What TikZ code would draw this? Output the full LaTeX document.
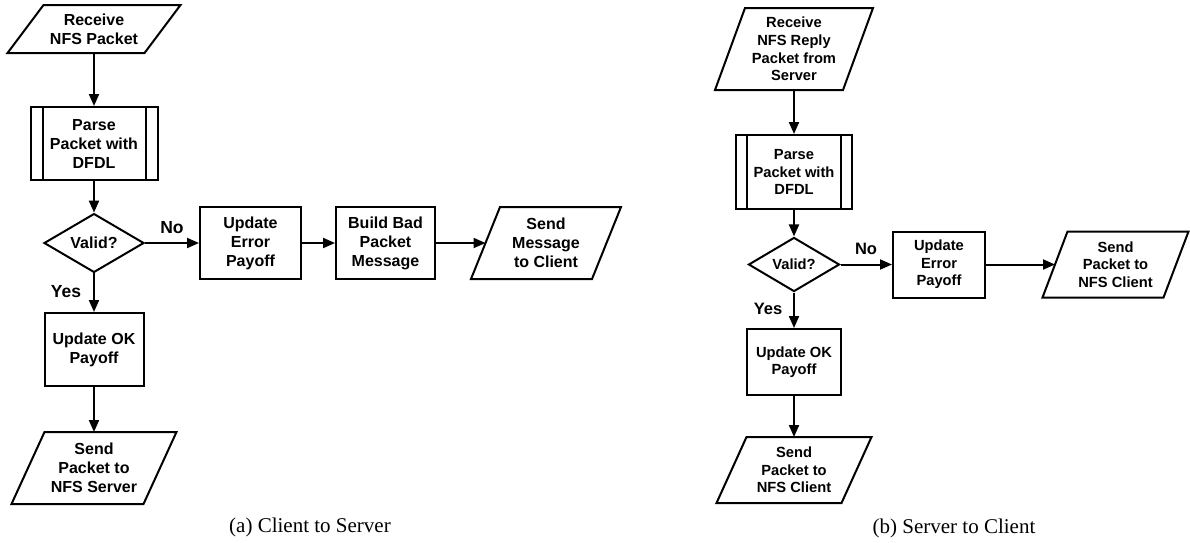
\documentclass[tikz,border=0pt]{standalone}
\usepackage{fontspec}
\newfontfamily\boxfont{Liberation Sans}
\newfontfamily\capfont{Liberation Serif}
\usetikzlibrary{shapes.geometric,arrows.meta,calc}
\newcommand\drawio[2]{\draw[line width=2pt, line join=miter] ($(#1.north west)+(#2,0)$) -- (#1.north east) -- ($(#1.south east)+(-#2,0)$) -- (#1.south west) -- cycle;}
\newcommand\procbars[2]{\draw[line width=2pt] ($(#1.north west)+(#2,0)$) -- ($(#1.south west)+(#2,0)$);
  \draw[line width=2pt] ($(#1.north east)+(-#2,0)$) -- ($(#1.south east)+(-#2,0)$);}
\tikzset{
 fa/.style={font=\boxfont\bfseries\fontsize{16}{19}\selectfont},
 fb/.style={font=\boxfont\bfseries\fontsize{14.7}{17.6}\selectfont},
 proc/.style={draw, line width=2pt, inner sep=0pt, align=center, rectangle},
 io/.style={inner sep=0pt, outer sep=0pt, align=center, rectangle},
 dec/.style={draw, line width=2pt, diamond, inner sep=0pt, align=center},
 arr/.style={line width=2pt, -{Triangle[length=12pt,width=10pt]}},
 lbla/.style={font=\boxfont\bfseries\fontsize{17.5}{20}\selectfont},
 lblb/.style={font=\boxfont\bfseries\fontsize{16.5}{20}\selectfont},
 captext/.style={font=\capfont\fontsize{21}{24}\selectfont},
}
\begin{document}
\begin{tikzpicture}[x=1pt,y=-1pt]
\useasboundingbox (0,0) rectangle (1190,542);

% ---------- (a) Client to Server ----------
\node[io, fa, minimum width=173pt, minimum height=48pt] (recv1) at (94,29) {Receive\\NFS Packet};
\drawio{recv1}{36}
\node[proc, fa, minimum width=127pt, minimum height=73pt] (parse1) at (94,143.5) {Parse\\Packet with\\DFDL};
\procbars{parse1}{13}
\node[dec, fa, minimum width=100pt, minimum height=50pt] (valid1) at (94,243) {Valid?};
\node[proc, fa, minimum width=101pt, minimum height=72pt] (err1) at (250.5,243) {Update\\Error\\Payoff};
\node[proc, fa, minimum width=99pt, minimum height=72pt] (bad) at (385.5,243) {Build Bad\\Packet\\Message};
\node[io, fa, minimum width=150pt, minimum height=72pt] (sendmsg) at (546,243) {Send\\Message\\to Client};
\drawio{sendmsg}{29}
\coordinate (sendmsg-in) at ($(sendmsg.west)+(14.5,0)$);
\node[proc, fa, minimum width=99pt, minimum height=73pt] (ok1) at (94,349.5) {Update OK\\Payoff};
\node[io, fa, minimum width=165pt, minimum height=72pt] (sendsrv) at (94,468) {Send\\Packet to\\NFS Server};
\drawio{sendsrv}{33}

\node[lbla] (no1) at (172,228) {No};
\node[lbla] (yes1) at (66,292) {Yes};

\draw[arr] (recv1) -- (parse1);
\draw[arr] (parse1) -- (valid1);
\draw[arr] (valid1) -- (err1);
\draw[arr] (err1) -- (bad);
\draw[arr] (bad) -- (sendmsg-in);
\draw[arr] (valid1) -- (ok1);
\draw[arr] (ok1) -- (sendsrv);

\node[captext] (capa) at (310,527) {(a) Client to Server};

% ---------- (b) Server to Client ----------
\node[io, fb, minimum width=158pt, minimum height=82pt] (recv2) at (794,49) {Receive\\NFS Reply\\Packet from\\Server};
\drawio{recv2}{30}
\node[proc, fb, minimum width=116pt, minimum height=74pt] (parse2) at (794,172) {Parse\\Packet with\\DFDL};
\procbars{parse2}{12}
\node[dec, fb, minimum width=91pt, minimum height=45pt] (valid2) at (794,264.5) {Valid?};
\node[proc, fb, minimum width=92pt, minimum height=66pt] (err2) at (939,264.5) {Update\\Error\\Payoff};
\node[io, fb, minimum width=146pt, minimum height=66pt] (sendcl2) at (1115.5,264.5) {Send\\Packet to\\NFS Client};
\drawio{sendcl2}{25}
\coordinate (sendcl2-in) at ($(sendcl2.west)+(12.5,0)$);
\node[proc, fb, minimum width=94pt, minimum height=66pt] (ok2) at (794,362) {Update OK\\Payoff};
\node[io, fb, minimum width=155pt, minimum height=66pt] (sendcl) at (794,470) {Send\\Packet to\\NFS Client};
\drawio{sendcl}{30}

\node[lblb] (no2) at (866,249) {No};
\node[lblb] (yes2) at (768,309) {Yes};

\draw[arr] (recv2) -- (parse2);
\draw[arr] (parse2) -- (valid2);
\draw[arr] (valid2) -- (err2);
\draw[arr] (err2) -- (sendcl2-in);
\draw[arr] (valid2) -- (ok2);
\draw[arr] (ok2) -- (sendcl);

\node[captext] (capb) at (954,528) {(b) Server to Client};
\end{tikzpicture}
\end{document}
